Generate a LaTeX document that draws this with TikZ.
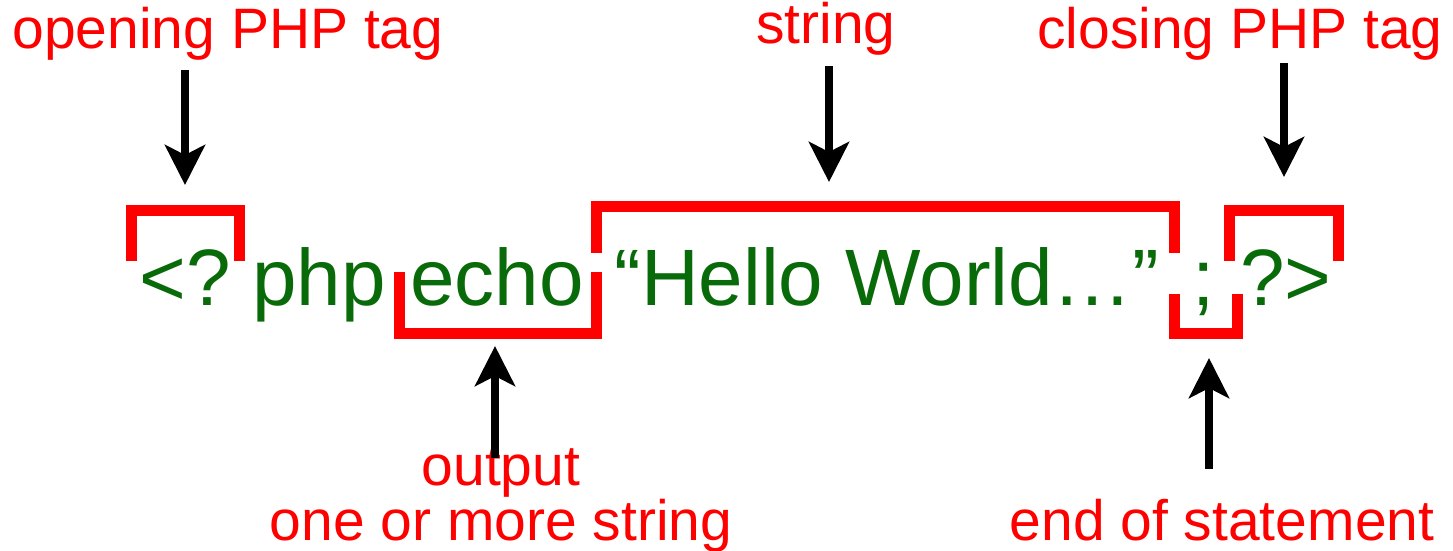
\documentclass[tikz,border=0pt]{standalone}
\usepackage{fontspec}
\setmainfont{Liberation Sans}
\usetikzlibrary{arrows.meta}
\definecolor{codegreen}{RGB}{8,106,8}
\begin{document}
\begin{tikzpicture}[x=1pt,y=-1pt,
    code/.style={text=codegreen,font=\fontsize{80}{90}\selectfont,anchor=base,inner sep=0pt},
    note/.style={text=red,font=\fontsize{57}{46}\selectfont,anchor=base,inner sep=0pt},
    brace/.style={draw=red,line width=11pt},
    pointer/.style={line width=8pt,-{Stealth[length=40pt,width=40pt,inset=10pt]}}]
    \useasboundingbox (0,0) rectangle (1453,550);
    % the line of code
    \node[code] (tagopen) at (185,305) {<?};
    \node[code] (kwphp) at (319,305) {php};
    \node[code] (kwecho) at (497,305) {echo};
    \node[code] (strhello) at (887,305) {“Hello World…”};
    \node[code] (semi) at (1204,305) {;};
    \node[code] (tagclose) at (1286,305) {?>};
    % brackets
    \draw[brace] (131.5,261) -- (131.5,210.5) -- (239.5,210.5) -- (239.5,261);
    \draw[brace] (399.5,272) -- (399.5,333.5) -- (596.5,333.5) -- (596.5,272);
    \draw[brace] (596.5,253) -- (596.5,206.5) -- (1174.5,206.5) -- (1174.5,253);
    \draw[brace] (1174.5,294) -- (1174.5,333.5) -- (1237.5,333.5) -- (1237.5,294);
    \draw[brace] (1229.5,261) -- (1229.5,210.5) -- (1338.5,210.5) -- (1338.5,261);
    % labels
    \node[note] (lblopen) at (228,48) {opening PHP tag};
    \node[note] (lblstring) at (826,43) {string};
    \node[note] (lblclose) at (1240,48) {closing PHP tag};
    \node[note,align=center] (lblout) at (501,540) {output\\one or more string};
    \node[note] (lblend) at (1222,540) {end of statement};
    % arrows
    \coordinate (fromopen) at (185,70);
    \coordinate (toopen) at (185,185);
    \draw[pointer] (fromopen) -- (toopen);
    \coordinate (fromstring) at (829,66);
    \coordinate (tostring) at (829,182);
    \draw[pointer] (fromstring) -- (tostring);
    \coordinate (fromclose) at (1284,63);
    \coordinate (toclose) at (1284,177);
    \draw[pointer] (fromclose) -- (toclose);
    \coordinate (fromout) at (495,458);
    \coordinate (toout) at (495,346);
    \draw[pointer] (fromout) -- (toout);
    \coordinate (fromend) at (1209,469);
    \coordinate (toend) at (1209,358);
    \draw[pointer] (fromend) -- (toend);
\end{tikzpicture}
\end{document}
